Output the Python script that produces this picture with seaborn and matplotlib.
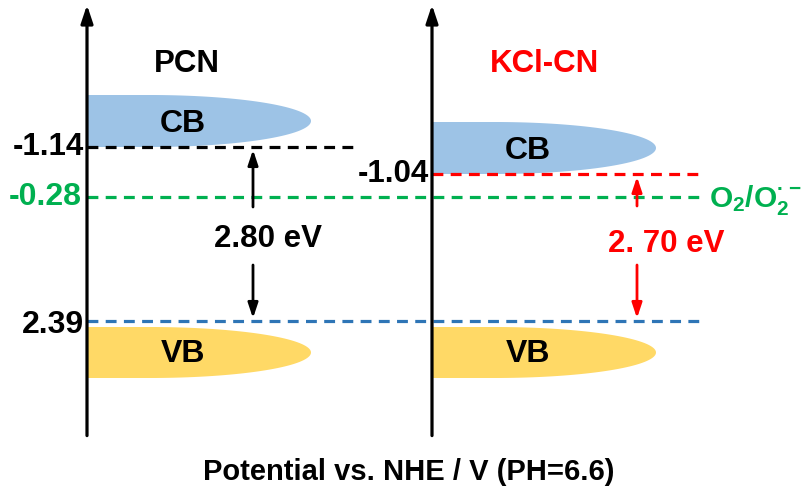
import numpy as np
import pandas as pd
import matplotlib
matplotlib.use('Agg')
import matplotlib.pyplot as plt
import seaborn as sns
from matplotlib.patches import Polygon

# band-edge data (V vs NHE)
materials = ['PCN', 'KCl-CN']
material_colors = ['black', '#FF0000']
cb_levels = [-1.14, -1.04]
vb_levels = [2.39, 2.39]
gap_labels = ['2.80 eV', '2. 70 eV']
redox_level = -0.28
redox_label = 'O$_2$/O$_2^{·-}$'
xlabel = 'Potential vs. NHE / V (PH=6.6)'

# schematic (not to scale) potential axis: knots -> row on the canvas
scale_pot = np.array([-1.14, -1.04, -0.28, 2.39])
scale_row = np.array([147.0, 174.0, 197.0, 321.0])

GREEN = '#00B050'
BLUE_LINE = '#2E75B6'
CB_FILL = '#9DC3E6'
VB_FILL = '#FFD966'
W, H = 809, 495


def _pw(v, xs, ys):
    v = np.asarray(v, dtype=float)
    out = np.interp(v, xs, ys)
    sl = (ys[1] - ys[0]) / (xs[1] - xs[0])
    sr = (ys[-1] - ys[-2]) / (xs[-1] - xs[-2])
    out = np.where(v < xs[0], ys[0] + (v - xs[0]) * sl, out)
    out = np.where(v > xs[-1], ys[-1] + (v - xs[-1]) * sr, out)
    return out


def fwd(v):
    return _pw(v, scale_pot, scale_row)


def inv(r):
    return _pw(r, scale_row, scale_pot)


def band_shape(x0, top, width, height):
    # flat left part + half ellipse on the right
    rect_w = 0.28 * width
    a = width - rect_w
    b = height / 2
    cx, cy = x0 + rect_w, top + b
    th = np.linspace(np.pi / 2, -np.pi / 2, 80)
    xs = np.concatenate([[x0], cx + a * np.cos(th), [x0]])
    ys = np.concatenate([[top], cy - b * np.sin(th), [top + height]])
    return np.column_stack([xs, inv(ys)])


sns.set_theme(style='white')
plt.rcParams['font.family'] = ['Liberation Sans', 'DejaVu Sans']
plt.rcParams['font.weight'] = 'bold'
plt.rcParams['text.color'] = 'black'
plt.rcParams['mathtext.default'] = 'regular'

fig = plt.figure(figsize=(W / 100, H / 100), dpi=100)
ax = fig.add_axes([0, 0, 1, 1])

axis_x = [87, 432]
band_w = 224

# dashed energy levels
levels = pd.DataFrame({
    'name': ['pcn_cb', 'pcn_cb', 'redox', 'redox', 'kcl_cb', 'kcl_cb', 'vb', 'vb'],
    'x': [87, 355, 87, 700, 432, 700, 87, 705],
    'y': [cb_levels[0], cb_levels[0], redox_level, redox_level,
          cb_levels[1], cb_levels[1], vb_levels[0], vb_levels[0]],
})
pal = {'pcn_cb': 'black', 'redox': GREEN, 'kcl_cb': '#FF0000', 'vb': BLUE_LINE}
sns.lineplot(data=levels, x='x', y='y', hue='name', style='name', palette=pal,
             dashes={k: (3.4, 2.3) for k in pal}, estimator=None, sort=False,
             legend=False, linewidth=2.3, ax=ax)

for i, name in enumerate(materials):
    x0 = axis_x[i]
    cb_row = float(fwd(cb_levels[i]))
    vb_row = float(fwd(vb_levels[i]))
    ax.add_patch(Polygon(band_shape(x0, cb_row - 52, band_w, 52), closed=True,
                         facecolor=CB_FILL, edgecolor='none', zorder=1))
    ax.add_patch(Polygon(band_shape(x0, vb_row + 6, band_w, 51), closed=True,
                         facecolor=VB_FILL, edgecolor='none', zorder=1))
    ax.text(x0 + 96, inv(cb_row - 23), 'CB', ha='center', va='center', fontsize=23)
    ax.text(x0 + 96, inv(vb_row + 33), 'VB', ha='center', va='center', fontsize=23)
    ax.text(x0 + 100 + 13 * i, 0.871, name, color=material_colors[i], ha='center',
            va='center', fontsize=22.5, transform=ax.get_xaxis_transform())
    # vertical axis arrow
    ax.annotate('', xy=(x0, 0.99), xytext=(x0, 0.12),
                xycoords=('data', 'axes fraction'),
                arrowprops=dict(arrowstyle='-|>,head_length=0.9,head_width=0.3',
                                color='black', lw=2.3, shrinkA=0, shrinkB=0,
                                mutation_scale=12))

# gap arrows
gap_x = [253, 637]
gap_text_x = [268, 666]
up_len = [-60, -32]
for i in range(2):
    c = material_colors[i]
    ap = dict(arrowstyle='-|>,head_length=0.9,head_width=0.3', color=c, lw=2,
              shrinkA=0, shrinkB=2, mutation_scale=10)
    ax.annotate('', xy=(gap_x[i], cb_levels[i]), xytext=(0, up_len[i]),
                textcoords='offset pixels', arrowprops=ap)
    ax.annotate('', xy=(gap_x[i], vb_levels[i]), xytext=(0, 56),
                textcoords='offset pixels', arrowprops=ap)
    mid = inv([239, 244][i])
    ax.text(gap_text_x[i], mid, gap_labels[i], color=c, ha='center', va='center',
            fontsize=22.5)

# level values
ax.text(84, cb_levels[0], '-1.14', ha='right', va='center', fontsize=22.5)
ax.text(82, redox_level, '-0.28', ha='right', va='center', fontsize=23, color=GREEN)
ax.text(84, inv(fwd(vb_levels[0]) + 4), '2.39', ha='right', va='center', fontsize=23)
ax.text(429, cb_levels[1], '-1.04', ha='right', va='center', fontsize=22.5)
ax.text(709, inv(fwd(redox_level) + 3), redox_label, ha='left', va='center',
        fontsize=21.5, color=GREEN)

ax.text(409, 0.047, xlabel, ha='center', va='center', fontsize=21,
        transform=ax.get_xaxis_transform())

ax.set_yscale('function', functions=(fwd, inv))
ax.set_xlim(0, W)
ax.set_ylim(float(inv(H)), float(inv(0)))
ax.axis('off')

fig.savefig('out.png', dpi=100)
